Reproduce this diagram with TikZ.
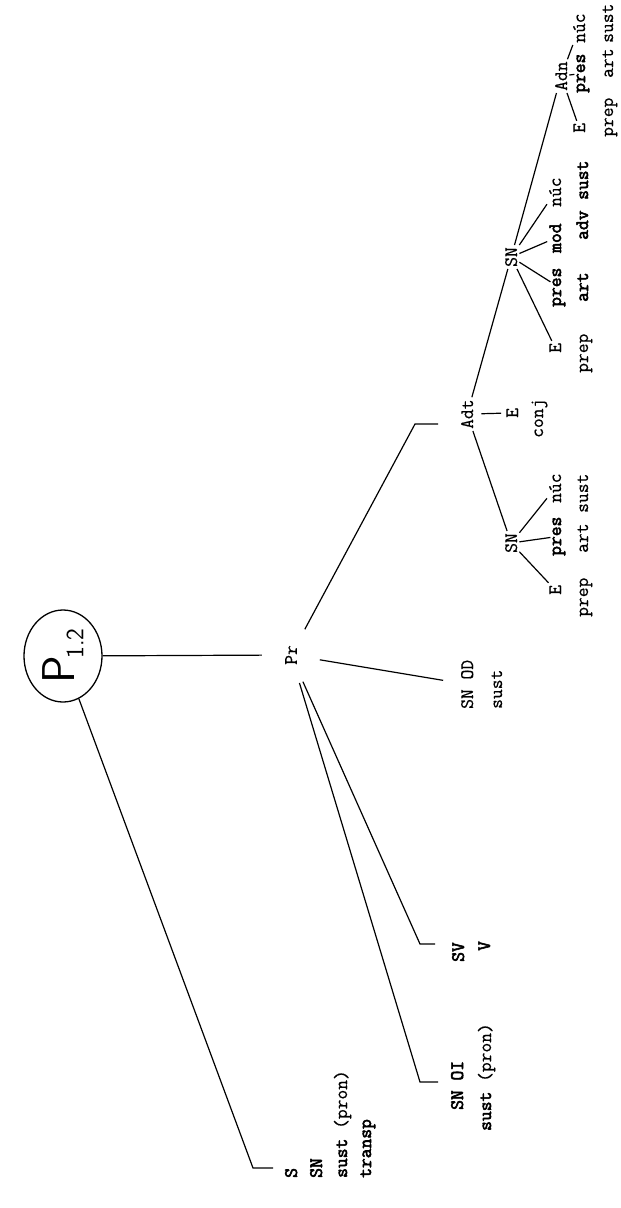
\documentclass[tikz,border=0pt]{standalone}
\usepackage{fontspec}
\newfontfamily\twfont{Latin Modern Mono}[FakeBold=0.6]
\newfontfamily\twbold{Latin Modern Mono}[FakeBold=3]
\usepackage{tikz}
\usetikzlibrary{positioning,calc,shapes.geometric}

\begin{document}
\begin{tikzpicture}[x=1pt,y=-1pt,
  wd/.style={rotate=90, anchor=base west, inner sep=2pt,
    font=\twfont\fontsize{19}{22}\selectfont},
  bwd/.style={wd, font=\twbold\fontsize{19}{22}\selectfont},
  hub/.style={circle, rotate=90, inner sep=0pt, minimum size=58pt,
    font=\twfont\fontsize{19}{22}\selectfont},
  br/.style={line width=1.2pt}]
  \useasboundingbox (0,0) rectangle (621,1208);

  \node[draw, ellipse, line width=1.3pt, minimum width=78pt, minimum height=92pt,
    inner sep=0pt, font=\sffamily] (p12) at (63,656)
    {\rotatebox{90}{\fontsize{46}{46}\selectfont P\kern-3pt\raisebox{-9pt}{\fontsize{25}{25}\selectfont 1.2}}};
  \node[hub] (pr) at (291,655) {Pr};

  \node[bwd] (s) at (297,1180) {S};
  \node[bwd] (ssn) at (322,1180) {SN};
  \node[wd] (ssust) at (347,1180) {{\twbold sust} (pron)};
  \node[bwd] (stransp) at (371,1180) {transp};

  \node[bwd] (snoi) at (463,1112) {SN OI};
  \node[wd] (snoisust) at (491,1133) {{\twbold sust} (pron)};
  \node[bwd] (sv) at (464,964) {SV};
  \node[bwd] (svv) at (490,953) {V};
  \node[wd] (snod) at (473,711) {SN OD};
  \node[wd] (snodsust) at (502,711) {sust};

  \node[wd] (adt) at (473,431) {Adt};
  \node[wd] (adte) at (518,420) {E};
  \node[wd] (adtconj) at (543,440) {conj};

  \node[wd] (sna) at (517,269) {SN};
  \node[wd] (snae) at (561,355) {E};
  \node[bwd] (snapres) at (561,309) {pres};
  \node[bwd] (snamod) at (561,255) {mod};
  \node[wd] (snanuc) at (561,209) {núc};
  \node[wd] (snaprep) at (588,375) {prep};
  \node[bwd] (snaart) at (588,304) {art};
  \node[bwd] (snaadv) at (588,242) {adv};
  \node[bwd] (snasust) at (588,202) {sust};

  \node[wd] (snb) at (517,555) {SN};
  \node[wd] (snbe) at (561,597) {E};
  \node[bwd] (snbpres) at (561,558) {pres};
  \node[wd] (snbnuc) at (561,505) {núc};
  \node[wd] (snbprep) at (588,619) {prep};
  \node[wd] (snbart) at (588,555) {art};
  \node[wd] (snbsust) at (588,515) {sust};

  \node[wd] (adn) at (567,93) {Adn};
  \node[wd] (adne) at (585,135) {E};
  \node[bwd] (adnpres) at (585,95) {pres};
  \node[wd] (adnnuc) at (585,45) {núc};
  \node[wd] (adnprep) at (613,139) {prep};
  \node[wd] (adnart) at (613,80) {art};
  \node[wd] (adnsust) at (613,45) {sust};

  \coordinate (sbend) at (253,1168);
  \coordinate (send) at (273,1168);
  \coordinate (oibend) at (420,1082);
  \coordinate (oiend) at (438,1082);
  \coordinate (svbend) at (420,944);
  \coordinate (svend) at (435,944);
  \coordinate (adtbend) at (415,424);
  \coordinate (adtend) at (438,424);

  \draw[br] (p12) -- (pr);
  \draw[br] (p12) -- (sbend) -- (send);
  \draw[br] (pr) -- (oibend) -- (oiend);
  \draw[br] (pr) -- (svbend) -- (svend);
  \draw[br, shorten >=16pt] (pr) -- (snod);
  \draw[br] (pr) -- (adtbend) -- (adtend);

  \draw[br] (adt) -- (sna);
  \draw[br] (adt) -- (snb);
  \draw[br, shorten <=6pt, shorten >=3pt] (adt) -- (adte);

  \draw[br] (sna) -- (snae);
  \draw[br] (sna) -- (snapres);
  \draw[br] (sna) -- (snamod);
  \draw[br] (sna) -- (snanuc);
  \draw[br] (sna) -- (adn);

  \draw[br] (snb) -- (snbe);
  \draw[br] (snb) -- (snbpres);
  \draw[br] (snb) -- (snbnuc);

  \draw[br] (adn) -- (adne);
  \draw[br] (adn) -- (adnpres);
  \draw[br] (adn) -- (adnnuc);
\end{tikzpicture}
\end{document}
